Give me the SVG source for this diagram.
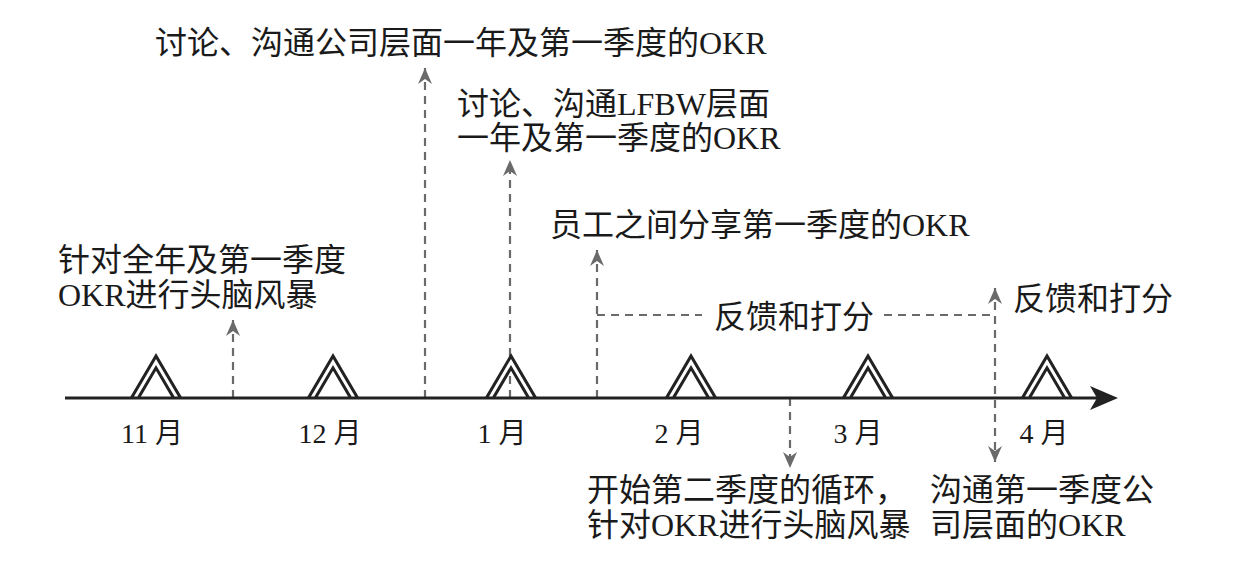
<svg xmlns="http://www.w3.org/2000/svg" width="1240" height="564" viewBox="0 0 1240 564">
<style>
.t{font-family:"Liberation Serif","Noto Sans CJK SC",serif;font-size:32px;fill:#1a1a1a}
.m{font-family:"Liberation Serif","Noto Sans CJK SC",serif;font-size:28px;fill:#1a1a1a;text-anchor:middle}
.d{stroke:#6a6a6a;stroke-width:2.2;stroke-dasharray:8 6;fill:none}
</style>
<defs>
<marker id="ah" markerUnits="userSpaceOnUse" viewBox="-16 -8 18 16" refX="0" refY="0" markerWidth="18" markerHeight="16" orient="auto">
<path d="M-16,-7 L0,0 L-16,7 L-11,0 Z" fill="#6a6a6a"/>
</marker>
<marker id="ahs" markerUnits="userSpaceOnUse" viewBox="-16 -8 18 16" refX="0" refY="0" markerWidth="18" markerHeight="16" orient="auto-start-reverse">
<path d="M-16,-7 L0,0 L-16,7 L-11,0 Z" fill="#6a6a6a"/>
</marker>
<g id="peak">
<polygon points="-27,1 0,-45 27,1 16.5,1 0,-27.2 -16.5,1" fill="#222"/>
<polygon points="-22,-1.5 0,-39.1 22,-1.5 18.6,-1.5 0,-33.1 -18.6,-1.5" fill="#fff"/>
</g>
</defs>
<rect width="1240" height="564" fill="#fff"/>
<g id="connectors">
<line class="d" x1="233" y1="398" x2="233" y2="320" marker-end="url(#ah)"/>
<line class="d" x1="425" y1="398" x2="425" y2="68" marker-end="url(#ah)"/>
<line class="d" x1="510" y1="398" x2="510" y2="160" marker-end="url(#ah)"/>
<line class="d" x1="597" y1="398" x2="597" y2="250" marker-end="url(#ah)"/>
<line class="d" x1="597" y1="315" x2="702" y2="315"/>
<line class="d" x1="884" y1="315" x2="995" y2="315"/>
<line class="d" x1="995" y1="288" x2="995" y2="462" marker-start="url(#ahs)" marker-end="url(#ah)"/>
<line class="d" x1="790" y1="398" x2="790" y2="468" marker-end="url(#ah)"/>
</g>
<g id="axis">
<line x1="65" y1="398" x2="1100" y2="398" stroke="#222" stroke-width="3"/>
<polygon points="1118,398 1090,386 1097,398 1090,410" fill="#222"/>
</g>
<g id="m11"><use href="#peak" x="156" y="398"/><text class="m" x="152" y="443">11 月</text></g>
<g id="m12"><use href="#peak" x="333" y="398"/><text class="m" x="330" y="443">12 月</text></g>
<g id="m1"><use href="#peak" x="511" y="398"/><text class="m" x="502" y="443">1 月</text></g>
<g id="m2"><use href="#peak" x="691" y="398"/><text class="m" x="679" y="443">2 月</text></g>
<g id="m3"><use href="#peak" x="868" y="398"/><text class="m" x="858" y="443">3 月</text></g>
<g id="m4"><use href="#peak" x="1047" y="398"/><text class="m" x="1044" y="443">4 月</text></g>
<g id="n1"><text class="t" x="58" y="271">针对全年及第一季度</text><text class="t" x="58" y="306">OKR进行头脑风暴</text></g>
<g id="n2"><text class="t" x="155" y="54">讨论、沟通公司层面一年及第一季度的OKR</text></g>
<g id="n3"><text class="t" x="457" y="115">讨论、沟通LFBW层面</text><text class="t" x="457" y="149">一年及第一季度的OKR</text></g>
<g id="n4"><text class="t" x="550" y="236">员工之间分享第一季度的OKR</text></g>
<g id="n5"><text class="t" x="714" y="328">反馈和打分</text></g>
<g id="n6"><text class="t" x="1013" y="310">反馈和打分</text></g>
<g id="n7"><text class="t" x="587" y="501">开始第二季度的循环，</text><text class="t" x="587" y="536">针对OKR进行头脑风暴</text></g>
<g id="n8"><text class="t" x="930" y="501">沟通第一季度公</text><text class="t" x="930" y="536">司层面的OKR</text></g>
</svg>
